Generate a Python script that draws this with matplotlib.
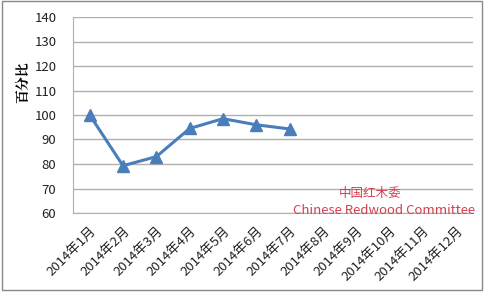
import matplotlib
matplotlib.use("Agg")
import matplotlib.pyplot as plt
import numpy as np

plt.rcParams['font.family'] = ['Noto Sans CJK SC', 'DejaVu Sans']

months = ["2014年%d月" % m for m in range(1, 13)]
values = [100, 79.3, 83, 94.5, 98.5, 96, 94.3]

fig = plt.figure(figsize=(4.85, 2.93), dpi=100)
ax = fig.add_axes([73 / 485, 1 - 213 / 293, 400 / 485, 196 / 293])

x = np.arange(len(months))
ax.plot(x[:len(values)], values, color='#4a7ebb', lw=2.2, marker='^', ms=8,
        markeredgecolor='#4a7ebb', clip_on=False)

ax.set_xlim(-0.5, len(months) - 0.5)
ax.set_ylim(60, 140)
ax.set_yticks(range(60, 141, 10))
ax.set_yticklabels([str(v) for v in range(60, 141, 10)], fontsize=9.5, color='#222222')
ax.set_xticks(x)
ax.set_xticklabels(months, rotation=45, ha='right', rotation_mode='anchor', fontsize=9.5,
                   color='#222222')
ax.tick_params(axis='both', length=0)
ax.tick_params(axis='x', pad=8)
ax.tick_params(axis='y', pad=12)
ax.grid(axis='y', color='#b0b0b0', lw=1)
ax.set_axisbelow(True)
for s in ['top', 'right']:
    ax.spines[s].set_visible(False)
ax.spines['left'].set_color('#b0b0b0')
ax.spines['bottom'].set_color('#b0b0b0')

fig.text(24 / 485, 1 - 82 / 293, "百分比", rotation=90, ha='center', va='center',
         fontsize=10, fontweight='bold', family=['Noto Serif CJK SC', 'Noto Sans CJK SC'])

fig.text(370 / 485, 1 - 194 / 293, "中国红木委", color='#d04050', ha='center', va='center', fontsize=9)
fig.text(384 / 485, 1 - 210 / 293, "Chinese Redwood Committee", color='#d04050',
         ha='center', va='center', fontsize=9.5)

border = plt.Rectangle((0.004, 0.01), 0.99, 0.985, transform=fig.transFigure,
                       fill=False, edgecolor='#888888', lw=1)
fig.patches.append(border)

fig.savefig("out.png", dpi=100)
